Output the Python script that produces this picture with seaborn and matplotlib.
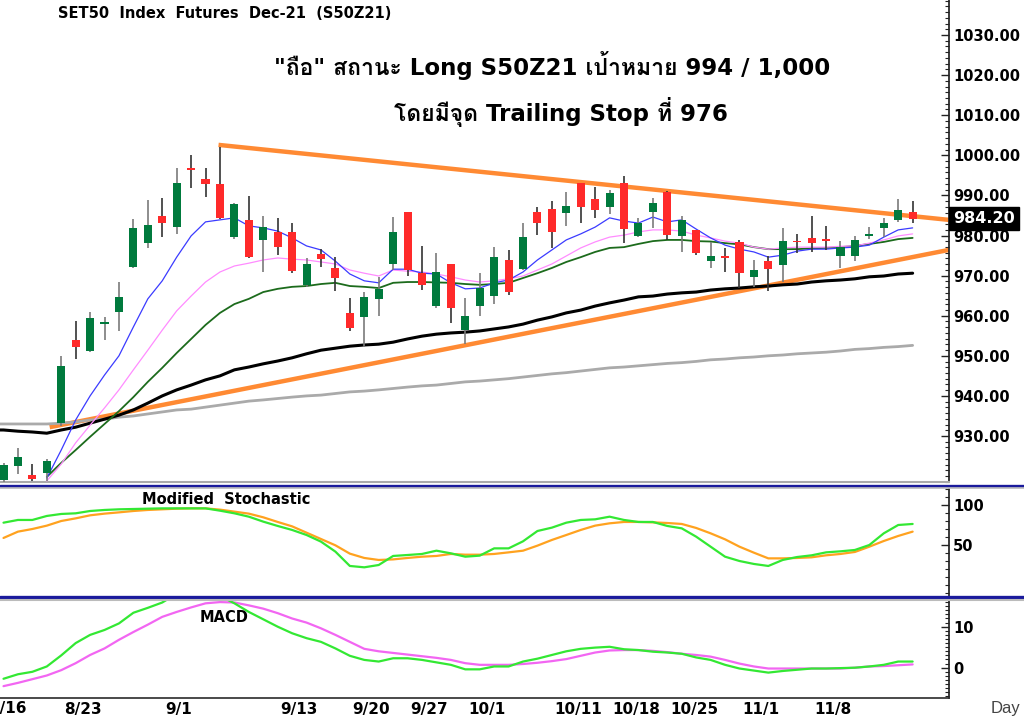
import numpy as np
import matplotlib
matplotlib.use("Agg")
import matplotlib.pyplot as plt
import seaborn as sns
from matplotlib import font_manager
from matplotlib.ft2font import FT2Font
from matplotlib.lines import Line2D
from matplotlib.ticker import AutoMinorLocator, MultipleLocator, FormatStrFormatter
from matplotlib.transforms import ScaledTranslation

# x axis = trading day index, 0 = 8/17
date_ticks = [-1, 4, 11, 19, 24, 28, 32, 38, 42, 46, 51, 56]
date_labels = ["8/16", "8/23", "9/1", "9/13", "9/20", "9/27", "10/1",
               "10/11", "10/18", "10/25", "11/1", "11/8"]

opens = [919.0, 922.5, 920.3, 920.8, 933.2, 953.9, 951.2, 957.9, 960.9, 972.1,
         978.1, 984.9, 982.1, 996.8, 994.1, 992.8, 979.6, 983.9, 978.9, 980.9,
         980.9, 967.7, 975.4, 971.9, 960.7, 959.7, 964.2, 972.9, 985.9, 970.6,
         962.4, 972.9, 956.4, 962.4, 964.9, 973.9, 971.6, 985.9, 986.6, 985.6,
         993.1, 989.1, 987.1, 993.1, 979.9, 985.9, 990.8, 979.9, 981.4, 973.6,
         974.9, 978.4, 969.7, 973.6, 972.6, 978.7, 979.4, 979.2, 974.9, 974.9,
         979.9, 981.9, 983.9, 985.9]
highs = [923.3, 927.0, 923.0, 924.3, 950.0, 958.7, 961.0, 959.8, 968.4, 984.1,
         988.9, 989.4, 996.8, 1000.0, 996.8, 1002.1, 988.1, 989.9, 984.9, 984.4,
         983.1, 974.4, 976.6, 974.6, 964.4, 965.9, 969.7, 984.7, 985.9, 977.4,
         975.6, 972.9, 964.4, 970.6, 977.1, 976.4, 983.1, 987.2, 988.6, 990.8,
         993.1, 992.1, 991.3, 994.8, 984.4, 989.4, 991.1, 984.9, 981.4, 978.4,
         976.9, 978.9, 973.9, 974.9, 981.9, 980.4, 984.9, 982.4, 978.6, 979.9,
         982.2, 984.4, 989.1, 988.6]
lows = [918.5, 920.5, 918.9, 918.9, 932.5, 949.2, 951.0, 953.9, 956.2, 971.9,
        976.9, 979.6, 980.4, 991.8, 989.6, 984.0, 979.1, 974.4, 970.9, 975.1,
        970.6, 967.2, 972.1, 966.2, 956.2, 952.2, 959.9, 971.4, 969.9, 966.4,
        961.9, 958.2, 952.9, 959.9, 962.9, 965.2, 971.4, 980.1, 976.9, 982.4,
        983.1, 984.4, 985.4, 978.1, 979.6, 981.9, 978.9, 975.9, 975.1, 971.9,
        970.9, 966.9, 967.2, 966.2, 968.4, 975.6, 975.9, 976.4, 971.9, 973.7,
        979.2, 979.7, 983.4, 983.1]
closes = [922.8, 924.8, 919.3, 923.8, 947.5, 952.2, 959.4, 958.4, 964.7, 981.9,
          982.6, 983.1, 993.1, 996.3, 992.8, 984.4, 987.9, 974.6, 982.1, 977.1,
          971.1, 972.9, 974.1, 969.4, 956.9, 964.7, 966.7, 980.9, 971.4, 967.7,
          970.9, 961.9, 959.9, 966.9, 974.6, 965.9, 979.6, 983.1, 980.9, 987.4,
          987.1, 986.4, 990.6, 981.6, 983.1, 988.1, 980.1, 983.9, 975.6, 974.9,
          974.4, 970.6, 971.4, 971.6, 978.6, 978.3, 978.1, 978.7, 977.1, 978.9,
          980.4, 983.1, 986.4, 984.2]
last_price = 984.20

# moving averages (short ones start at day 3, long ones at day -1)
ma_fast = [919.5, 926.5, 934.0, 940.0, 945.2, 950.0, 957.2, 964.2, 968.7, 974.6,
           979.9, 983.4, 983.9, 984.4, 982.4, 981.9, 981.1, 979.4, 977.4, 976.4,
           973.6, 970.4, 968.7, 968.2, 971.6, 971.6, 970.6, 970.4, 968.2, 966.7,
           966.9, 968.2, 968.9, 970.9, 973.9, 976.4, 978.9, 980.4, 982.1, 984.4,
           983.6, 983.1, 984.6, 983.4, 983.9, 981.6, 979.4, 977.6, 976.6, 975.9,
           974.6, 975.1, 976.1, 976.6, 976.6, 976.9, 977.1, 977.6, 979.6, 981.4,
           981.9]
ma_mid = [918.8, 923.0, 928.3, 932.7, 937.0, 941.5, 946.5, 951.4, 956.4, 961.2,
          964.9, 968.4, 970.9, 972.4, 973.1, 973.9, 974.4, 974.1, 973.9, 973.4,
          972.9, 971.4, 970.6, 969.9, 971.4, 971.1, 970.9, 970.4, 969.7, 968.9,
          968.4, 968.7, 969.2, 969.9, 971.4, 972.9, 974.9, 976.9, 978.4, 979.6,
          980.1, 980.9, 981.4, 981.4, 981.1, 980.1, 979.4, 978.6, 978.1, 977.1,
          976.6, 976.9, 977.1, 977.1, 977.1, 977.3, 977.4, 978.1, 978.9, 979.9,
          980.4]
ma_slow = [919.8, 923.3, 926.5, 929.8, 933.0, 936.2, 939.7, 943.5, 947.0, 950.7,
           954.2, 957.7, 960.7, 962.9, 964.2, 965.9, 966.7, 967.2, 967.4, 967.9,
           968.2, 967.4, 967.2, 966.9, 968.2, 968.4, 968.4, 968.3, 968.2, 967.9,
           967.7, 967.9, 968.2, 969.4, 970.6, 971.9, 973.4, 974.6, 975.9, 976.9,
           977.1, 977.9, 978.6, 978.9, 978.9, 978.6, 978.5, 978.1, 977.8, 977.1,
           976.6, 976.6, 976.6, 976.8, 976.9, 977.1, 977.4, 977.9, 978.4, 979.1,
           979.4]
ma_long = [931.5, 931.5, 931.2, 931.0, 930.7, 931.5, 932.2, 933.2, 934.2, 935.2,
           936.5, 938.2, 940.0, 941.5, 942.7, 944.0, 945.0, 946.5, 947.2, 948.0,
           948.7, 949.5, 950.5, 951.4, 951.9, 952.4, 952.7, 952.9, 953.4, 954.2,
           954.9, 955.4, 955.7, 955.9, 956.2, 956.7, 957.2, 957.9, 958.9, 959.7,
           960.7, 961.4, 962.4, 963.2, 963.9, 964.7, 964.9, 965.4, 965.7, 965.9,
           966.4, 966.7, 966.9, 967.2, 967.4, 967.7, 967.9, 968.4, 968.7, 968.9,
           969.2, 969.7, 969.9, 970.4, 970.6]
ma_200 = [933.0, 933.0, 933.0, 933.0, 933.0, 933.2, 933.5, 934.0, 934.2, 934.7,
          935.0, 935.5, 936.0, 936.5, 936.7, 937.2, 937.7, 938.2, 938.7, 939.0,
          939.35, 939.7, 940.0, 940.2, 940.6, 941.0, 941.2, 941.5, 941.85, 942.2,
          942.5, 942.7, 943.1, 943.5, 943.7, 944.0, 944.3, 944.7, 945.1, 945.5,
          945.8, 946.2, 946.6, 947.0, 947.2, 947.5, 947.8, 948.1, 948.3, 948.6,
          949.0, 949.2, 949.5, 949.7, 950.0, 950.2, 950.5, 950.7, 950.9, 951.2,
          951.6, 951.8, 952.1, 952.3, 952.6]

# hand drawn trendlines (day index, price)
trend_top_x = [14.9, 65.5]
trend_top_y = [1002.6, 983.9]
trend_low_x = [3.2, 65.5]
trend_low_y = [932.2, 976.4]

stoch_k = [77.9, 81.3, 81.3, 86.3, 88.8, 89.6, 92.5, 93.8, 94.6, 95.0,
           95.4, 95.8, 95.8, 95.8, 95.8, 92.9, 89.6, 85.4, 79.2, 73.8,
           68.8, 62.5, 54.2, 41.7, 23.8, 22.1, 25.0, 36.3, 37.5, 38.8,
           42.9, 39.6, 35.4, 36.7, 45.8, 45.8, 54.6, 67.5, 71.7, 77.9,
           81.3, 82.1, 85.4, 81.3, 78.8, 78.8, 73.8, 70.8, 60.4, 47.9,
           35.4, 30.0, 26.3, 23.8, 31.3, 35.0, 37.1, 40.8, 42.1, 43.8,
           50.0, 64.6, 75.0, 76.3]
stoch_d = [58.8, 66.7, 70.0, 74.2, 80.0, 83.3, 87.1, 89.2, 90.8, 92.5,
           93.8, 94.6, 95.4, 95.8, 95.8, 94.2, 91.7, 89.2, 84.6, 78.8,
           73.3, 65.4, 57.5, 49.6, 39.2, 33.8, 31.3, 32.0, 33.8, 35.4,
           36.3, 38.8, 37.9, 37.9, 38.8, 40.8, 42.9, 49.2, 56.3, 62.5,
           68.8, 74.2, 77.1, 78.8, 78.8, 78.3, 77.5, 76.3, 71.3, 64.6,
           57.1, 47.9, 40.4, 33.3, 33.3, 33.8, 34.6, 37.1, 38.8, 41.3,
           47.9, 55.0, 61.3, 66.7]
macd = [-2.7, -1.6, -1.0, 0.3, 3.0, 6.0, 8.0, 9.2, 10.8, 13.4,
        14.6, 15.9, 18.0, 19.0, 19.0, 17.5, 15.7, 13.6, 11.8, 10.0,
        8.4, 7.2, 6.3, 4.7, 2.9, 1.9, 1.5, 2.3, 2.3, 1.9,
        1.3, 0.7, -0.4, -0.4, 0.3, 0.3, 1.5, 2.2, 3.1, 4.0,
        4.6, 4.9, 5.1, 4.5, 4.3, 3.9, 3.7, 3.4, 2.5, 1.9,
        0.7, -0.2, -0.7, -1.2, -0.8, -0.5, -0.2, -0.2, -0.1, 0.0,
        0.3, 0.7, 1.5, 1.5]
macd_signal = [-4.5, -3.7, -2.8, -1.9, -0.6, 1.1, 3.1, 4.7, 6.8, 8.7,
               10.5, 12.4, 13.6, 14.7, 15.7, 16.0, 15.9, 15.2, 14.4, 13.3,
               12.0, 11.0, 9.6, 8.0, 6.3, 4.6, 4.0, 3.6, 3.2, 2.8,
               2.4, 1.9, 1.1, 0.7, 0.7, 0.7, 0.9, 1.2, 1.6, 2.1,
               2.9, 3.7, 4.2, 4.3, 4.3, 4.1, 3.8, 3.4, 3.1, 2.7,
               1.9, 1.0, 0.3, -0.2, -0.2, -0.2, -0.2, -0.2, -0.2, 0.0,
               0.3, 0.4, 0.6, 0.8]

title = "SET50  Index  Futures  Dec-21  (S50Z21)"
note1 = "\"ถือ\" สถานะ Long S50Z21 เป้าหมาย 994 / 1,000"
note2 = "โดยมีจุด Trailing Stop ที่ 976"

# find a font with Thai glyphs, prefer a looped sans like Tahoma
thai_fonts = set()
for f in font_manager.fontManager.ttflist:
    try:
        if 0x0E16 in FT2Font(f.fname).get_charmap():
            thai_fonts.add(f.name)
    except Exception:
        pass
thai_pick = [n for n in ["Loma", "Garuda", "Noto Sans Thai Looped", "IBM Plex Sans Thai Looped",
                         "Sarabun", "Noto Sans Thai"] if n in thai_fonts]
thai_pick = (thai_pick or sorted(thai_fonts))[:1]

sns.set_theme(style="white")
plt.rcParams["font.family"] = ["DejaVu Sans"]
plt.rcParams["text.color"] = "black"
plt.rcParams["xtick.color"] = "black"
plt.rcParams["ytick.color"] = "black"
note_family = ["DejaVu Sans"] + thai_pick

W, H = 1024, 721
fig = plt.figure(figsize=(W / 100, H / 100), dpi=100)
right = 949 / W
ax = fig.add_axes([0, 1 - 482 / H, right, 482 / H])
ax_st = fig.add_axes([0, 1 - 596 / H, right, 109 / H], sharex=ax)
ax_md = fig.add_axes([0, 1 - 698 / H, right, 98 / H], sharex=ax)

days = np.arange(len(opens))
o, hi, lo, c = (np.array(v) for v in (opens, highs, lows, closes))
up = c >= o

# trendlines and moving averages under the candles
ax.plot(trend_top_x, trend_top_y, color="#ff8a33", lw=3.2, zorder=2, solid_capstyle="butt")
ax.plot(trend_low_x, trend_low_y, color="#ff8a33", lw=3.2, zorder=2, solid_capstyle="butt")
sns.lineplot(x=np.arange(-1, 64), y=ma_200, ax=ax, color="#aaaaaa", lw=2.0, zorder=2)
sns.lineplot(x=np.arange(-1, 64), y=ma_long, ax=ax, color="black", lw=2.2, zorder=2.5)
sns.lineplot(x=np.arange(3, 64), y=ma_slow, ax=ax, color="#1c6b1c", lw=1.3, zorder=2.6)
sns.lineplot(x=np.arange(3, 64), y=ma_mid, ax=ax, color="#ff8cff", lw=0.9, zorder=2.7)
sns.lineplot(x=np.arange(3, 64), y=ma_fast, ax=ax, color="#3b3bff", lw=0.9, zorder=2.8)

ax.vlines(days, lo, hi, colors=np.where(up, "#7a7a7a", "#333333"), lw=1.2, zorder=4)
ax.bar(days, np.maximum(np.abs(c - o), 0.45), bottom=np.minimum(o, c), width=0.56,
       color=np.where(up, "#007a3d", "#ff2a2a"), linewidth=0, zorder=5)

ax.set_xlim(-0.243, 65.52)
ax.set_ylim(918.53, 1038.73)
ax.set_yticks(np.arange(930, 1031, 10))
ax.yaxis.set_major_formatter(FormatStrFormatter("%.2f"))
ax.yaxis.set_minor_locator(AutoMinorLocator(7))

# stochastic panel
sns.lineplot(x=days, y=stoch_d, ax=ax_st, color="#ffa21f", lw=1.6)
sns.lineplot(x=days, y=stoch_k, ax=ax_st, color="#33e833", lw=1.6)
ax_st.set_ylim(-13.75, 122.5)
ax_st.set_yticks([50, 100])
ax_st.yaxis.set_minor_locator(MultipleLocator(10))

# MACD panel
sns.lineplot(x=days, y=macd_signal, ax=ax_md, color="#f266f2", lw=1.6)
sns.lineplot(x=days, y=macd, ax=ax_md, color="#33e833", lw=1.6)
ax_md.set_ylim(-7.39, 16.51)
ax_md.set_yticks([0, 10])
ax_md.yaxis.set_minor_locator(MultipleLocator(1))

for a in (ax, ax_st, ax_md):
    a.set_xlabel("")
    a.set_ylabel("")
    a.yaxis.tick_right()
    a.spines["left"].set_visible(False)
    a.spines["top"].set_visible(False)
    a.spines["right"].set_color("#222222")
    a.tick_params(axis="y", which="major", direction="in", length=6, width=1,
                  color="#222222", labelcolor="black", pad=3, labelsize=10.5)
    a.tick_params(axis="y", which="minor", direction="in", length=3, width=0.8,
                  color="#222222")
    for t in a.get_yticklabels():
        t.set_fontweight("bold")
ax.spines["bottom"].set_color("#aaaaaa")
ax.spines["bottom"].set_linewidth(1.5)
ax_st.spines["bottom"].set_visible(False)
ax_md.spines["bottom"].set_color("#333333")
ax.tick_params(axis="x", bottom=False, labelbottom=False)
ax_st.tick_params(axis="x", bottom=False, labelbottom=False)

ax_md.set_xticks(date_ticks[1:], date_labels[1:])
ax_md.tick_params(axis="x", direction="out", length=17, width=1, color="#999999",
                  labelcolor="black", pad=-14, labelsize=11)
shift = ScaledTranslation(2 / 72, 0, fig.dpi_scale_trans)
for t in ax_md.get_xticklabels():
    t.set_ha("left")
    t.set_fontweight("bold")
    t.set_transform(t.get_transform() + shift)
ax_md.set_xlim(-0.243, 65.52)
# first date sits left of the visible range, only its tail shows
ax_md.text(date_ticks[0], -0.035, date_labels[0], transform=ax_md.get_xaxis_transform(),
           ha="left", va="top", fontsize=11, fontweight="bold", clip_on=False)

# panel separators
for yy, col, lw in [(485.5, "#1a1a9c", 2.4), (488, "#c0c0c0", 1.2),
                    (597, "#1a1a9c", 2.4), (600, "#bbbbbb", 1.5)]:
    fig.add_artist(Line2D([0, 1], [1 - yy / H] * 2, transform=fig.transFigure, color=col, lw=lw))

# last price tag
ax.text(1.004, last_price, f"{last_price:.2f}", transform=ax.get_yaxis_transform(),
        ha="left", va="center", color="white", fontsize=11.5, fontweight="bold",
        bbox=dict(boxstyle="square,pad=0.25", fc="black", ec="black"),
        clip_on=False, zorder=10)

fig.text(58 / W, 1 - 13 / H, title, fontsize=10.5, fontweight="bold", va="center", ha="left")
fig.text(552 / W, 1 - 65 / H, note1, fontsize=16.5, fontweight="bold", va="center",
         ha="center", family=note_family)
fig.text(561 / W, 1 - 112 / H, note2, fontsize=16.5, fontweight="bold", va="center",
         ha="center", family=note_family)
fig.text(142 / W, 1 - 500 / H, "Modified  Stochastic", fontsize=10.5, fontweight="bold", va="center")
fig.text(200 / W, 1 - 617 / H, "MACD", fontsize=10.5, fontweight="bold", va="center")
fig.text(991 / W, 1 - 708 / H, "Day", fontsize=12, color="#444444", va="center",
         family=["Liberation Sans", "DejaVu Sans"])

fig.savefig("out.png", dpi=100, facecolor="white")
